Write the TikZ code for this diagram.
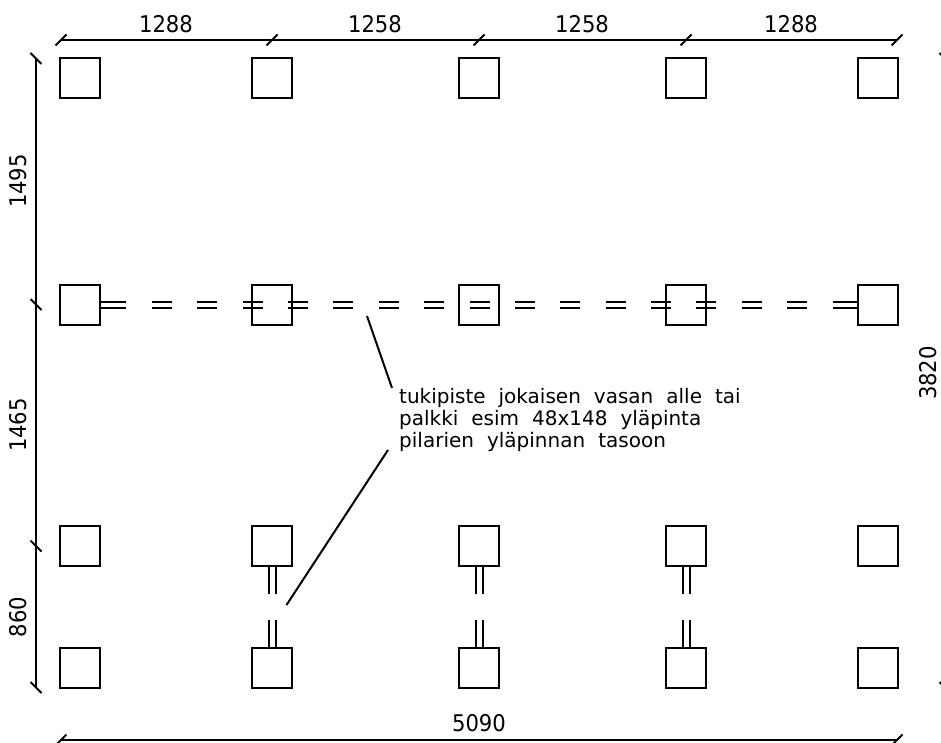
\documentclass[tikz,border=0pt]{standalone}
\usepackage{fontspec}
\setmainfont{DejaVu Sans}
\newfontfamily\dimfont{DejaVu Sans}[FakeStretch=0.92]
\newcommand{\notefont}{\fontsize{20}{22}\selectfont\setlength{\spaceskip}{13pt}}
\usetikzlibrary{positioning}
\tikzset{
    pad/.style={draw=black, line width=2pt, rectangle, minimum size=40pt, inner sep=0pt, outer sep=0pt},
    dimline/.style={color=black, line width=2pt},
    beam/.style={color=black, line width=2pt},
    label/.style={inner sep=0pt, font=\dimfont\fontsize{23}{23}\selectfont},
    note/.style={inner sep=0pt, align=left, font=\notefont}
}

\begin{document}
\begin{tikzpicture}[x=1pt, y=-1pt]

    \clip (0,0) rectangle (941,743);
    \useasboundingbox (0,0) rectangle (941,743);

    % pads
    \foreach \col/\x in {a/80, b/272, c/479, d/686, e/878} {
        \foreach \row/\y in {1/78, 2/305, 3/546, 4/668} {
            \node[pad] (\col\row) at (\x,\y) {};
        }
    }

    % long beam
    \draw[beam] ([yshift=3pt]a2.east) -- ++(26,0);
    \draw[beam] ([yshift=-3pt]a2.east) -- ++(26,0);
    \draw[beam] ([yshift=3pt]e2.west) -- ++(-25,0);
    \draw[beam] ([yshift=-3pt]e2.west) -- ++(-25,0);
    \foreach \x in {152,197,243,288,333,379,424,470,515,560,606,651,696,742,787} {
        \draw[beam] (\x,302) -- ++(20,0);
        \draw[beam] (\x,308) -- ++(20,0);
    }

    % short beams
    \foreach \col in {b,c,d} {
        \draw[beam] ([xshift=-3pt]\col3.south) -- ++(0,28);
        \draw[beam] ([xshift=4pt]\col3.south) -- ++(0,28);
        \draw[beam] ([xshift=-3pt]\col4.north) -- ++(0,-28);
        \draw[beam] ([xshift=4pt]\col4.north) -- ++(0,-28);
    }

    % top dimension
    \coordinate (t0) at (61,40);
    \coordinate (t1) at (272,40);
    \coordinate (t2) at (479,40);
    \coordinate (t3) at (686,40);
    \coordinate (t4) at (897,40);
    \draw[dimline] (t0) -- (t4);
    \foreach \t in {t0,t1,t2,t3,t4} {
        \draw[dimline] ([shift={(-5.5,5.5)}]\t) -- ([shift={(5.5,-5.5)}]\t);
    }
    \node[label] (top1) at (166,24) {1288};
    \node[label] (top2) at (375,24) {1258};
    \node[label] (top3) at (582,24) {1258};
    \node[label] (top4) at (791,24) {1288};

    % left dimension
    \coordinate (l0) at (36,58.5);
    \coordinate (l1) at (36,304.5);
    \coordinate (l2) at (36,546);
    \coordinate (l3) at (36,687.5);
    \draw[dimline] (l0) -- (l3);
    \foreach \t in {l0,l1,l2,l3} {
        \draw[dimline] ([shift={(-5.5,-5.5)}]\t) -- ([shift={(5.5,5.5)}]\t);
    }
    \node[label, rotate=90] (left1) at (18,181) {1495};
    \node[label, rotate=90] (left2) at (18,425) {1465};
    \node[label, rotate=90] (left3) at (18,617) {860};

    % bottom dimension
    \coordinate (b0) at (61,740);
    \coordinate (b1) at (897,740);
    \draw[dimline] (b0) -- (b1);
    \foreach \t in {b0,b1} {
        \draw[dimline] ([shift={(-5.5,5.5)}]\t) -- ([shift={(5.5,-5.5)}]\t);
    }
    \node[label] (total) at (479,723) {5090};

    % right dimension, cut by the page edge
    \coordinate (r0) at (945,58.5);
    \coordinate (r1) at (945,687.5);
    \foreach \t in {r0,r1} {
        \draw[dimline] ([shift={(-5.5,-5.5)}]\t) -- ([shift={(5.5,5.5)}]\t);
    }
    \node[label, rotate=90] (height) at (928,373) {3820};

    % note
    \node[note, anchor=north west] (text) at (399,388) {tukipiste jokaisen vasan alle tai\\palkki esim 48x148 yläpinta\\pilarien yläpinnan tasoon};
    \coordinate (n1) at (367,316);
    \coordinate (n2) at (392,388);
    \coordinate (n3) at (388,450);
    \coordinate (n4) at (286.5,605);
    \draw[dimline] (n1) -- (n2);
    \draw[dimline] (n3) -- (n4);

\end{tikzpicture}
\end{document}
